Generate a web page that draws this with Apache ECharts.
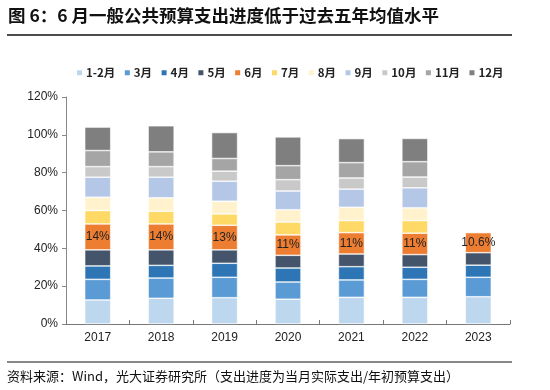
<!DOCTYPE html>
<html><head><meta charset="utf-8">
<script src="https://cdn.jsdelivr.net/npm/echarts@6/dist/echarts.min.js"></script>
<style>html,body{margin:0;padding:0;background:#fff}#c{width:550px;height:390px}</style>
</head><body><div id="c"></div>
<script>
const years = ['2017','2018','2019','2020','2021','2022','2023'];
const months = ['1-2月','3月','4月','5月','6月','7月','8月','9月','10月','11月','12月'];
const m1_2 = [12.7,13.6,13.9,13.1,14.1,14.1,14.4];
const m3   = [10.9,10.7,10.8,9.1,9.2,9.5,10.3];
const m4   = [7.1,6.7,7.4,7.4,7.0,6.4,6.4];
const m5   = [8.5,8.2,7.1,6.7,6.7,6.7,6.6];
const m6   = [13.7,13.7,13.0,10.8,11.3,11.3,10.6];
const m7   = [7.1,6.7,6.0,6.8,6.4,6.7,null];
const m8   = [7.0,7.1,6.7,6.5,7.0,6.7,null];
const m9   = [10.6,10.9,10.6,9.9,9.6,10.6,null];
const m10  = [5.6,5.6,5.3,6.0,5.9,5.7,null];
const m11  = [8.5,7.8,6.7,7.4,8.1,8.1,null];
const m12  = [12.4,13.8,13.7,15.2,12.7,12.3,null];
const juneLabels = ['14%','14%','13%','11%','11%','11%','10.6%'];
const yTicks = [0,20,40,60,80,100,120];

const monthData = [m1_2,m3,m4,m5,m6,m7,m8,m9,m10,m11,m12];
const colors = ['#BDD7EE','#5B9BD5','#2E75B6','#44546A','#ED7D31','#FFD966','#FFF2CC','#B4C7E7','#C9C9C9','#A5A5A5','#7F7F7F'];
const numFont = 'Liberation Sans, Arial, sans-serif';
const cjkFont = 'Noto Sans CJK SC, sans-serif';

const series = months.map((m,i)=>({
  name: m, type:'bar', stack:'total', barWidth:26,
  data: monthData[i],
  itemStyle:{color:colors[i], borderColor:'#fff', borderWidth:0.6},
  label: i===4 ? {show:true, position:'inside', color:'#222', fontFamily:numFont, fontSize:12,
    formatter:p=>juneLabels[p.dataIndex]} : {show:false},
  emphasis:{disabled:true}
}));

const chart = echarts.init(document.getElementById('c'), null, {renderer:'canvas'});
chart.setOption({
  animation:false,
  color: colors,
  title:[
    {text:'图 6：6 月一般公共预算支出进度低于过去五年均值水平', left:3, top:2,
     textStyle:{fontFamily:cjkFont, fontSize:17.5, fontWeight:'bold', color:'#111'}},
    {text:'资料来源：Wind，光大证券研究所（支出进度为当月实际支出/年初预算支出）', left:2, top:365,
     textStyle:{fontFamily:cjkFont, fontSize:13, fontWeight:'normal', color:'#111'}}
  ],
  graphic:[
    {type:'line', shape:{x1:7,y1:35,x2:512,y2:35}, style:{stroke:'#111', lineWidth:1.5}},
    {type:'line', shape:{x1:7,y1:362,x2:512,y2:362}, style:{stroke:'#111', lineWidth:1.2}}
  ],
  legend:{
    data: months, left:70, top:62, width:470, itemWidth:7, itemHeight:7, itemGap:7.5, icon:'rect',
    textStyle:{fontFamily:cjkFont, fontSize:11.5, fontWeight:'bold', color:'#222', padding:[0,0,0,-2]}
  },
  grid:{left:66, right:40, top:97, bottom:66},
  xAxis:{
    type:'category', data:years,
    axisLine:{lineStyle:{color:'#777'}},
    axisTick:{show:true, inside:true, length:4, lineStyle:{color:'#777'}},
    axisLabel:{fontFamily:numFont, fontSize:12, color:'#222', margin:8}
  },
  yAxis:{
    type:'value', min:yTicks[0], max:yTicks[yTicks.length-1], interval:20,
    axisLine:{show:true, lineStyle:{color:'#888'}},
    axisTick:{show:true, length:4, lineStyle:{color:'#888'}},
    splitLine:{show:false},
    axisLabel:{fontFamily:numFont, fontSize:12, color:'#222', formatter:'{value}%', margin:8}
  },
  series: series
});
</script></body></html>
